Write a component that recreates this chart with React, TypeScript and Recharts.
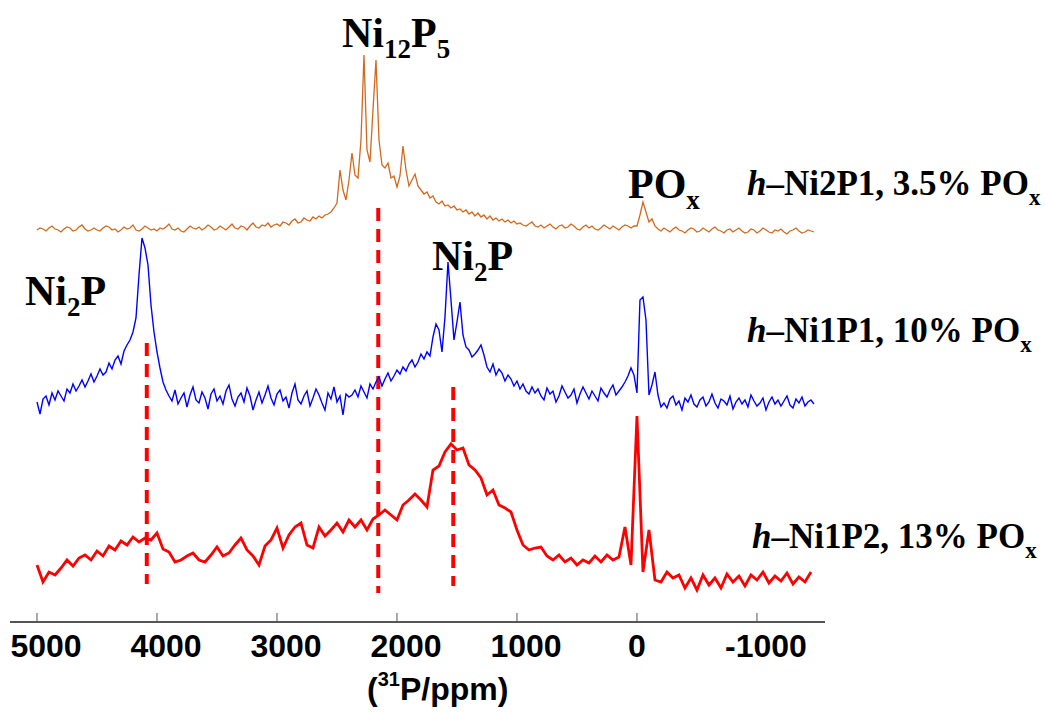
import React from "react";
import { LineChart, Line, XAxis, YAxis, ReferenceLine } from "recharts";

// sampling of the spectra (ppm)
const START_PPM = 5000;
const FINE_STEP = 25; // h-Ni2P1 and h-Ni1P1
const COARSE_STEP = 50; // h-Ni1P2

const X_TICKS = [5000, 4000, 3000, 2000, 1000, 0, -1000];

// stacked intensities (offset already included)
const ni2p1Values = [
  392, 394, 393, 391, 394, 396, 393, 392, 390, 393, 395, 394, 391, 392, 395, 397, 393, 391, 392, 394,
  392, 391, 394, 396, 395, 392, 393, 390, 392, 395, 393, 394, 397, 392, 391, 393, 396, 394, 392, 393,
  391, 394, 393, 395, 398, 393, 392, 394, 391, 390, 393, 396, 394, 393, 395, 392, 394, 397, 395, 392,
  393, 396, 394, 392, 395, 398, 394, 393, 396, 395, 392, 396, 399, 395, 394, 397, 396, 399, 395, 397,
  398, 396, 400, 399, 397, 401, 403, 399, 400, 404, 402, 401, 405, 403, 406, 404, 407,
  408, 410, 414, 419, 452, 432, 422, 442, 469, 447, 444, 482, 567, 472, 460, 512, 562, 482, 457, 454,
  459, 444, 446, 435, 446, 476, 452, 436, 442, 448, 436, 432, 428, 430, 424, 426, 420,
  418, 421, 416, 417, 414, 416, 412, 413, 410, 412, 408, 410, 406, 409, 405, 407, 403, 406, 402, 404,
  401, 403, 400, 402, 399, 401, 398,
  399, 397, 396, 398, 400, 396, 395, 397, 394, 396, 398, 395, 393, 396, 397, 394, 395, 398, 396, 393,
  392, 395, 397, 394, 396, 393, 392, 394, 397, 395, 393, 396, 394, 392, 395, 397, 396, 394, 396,
  396, 407, 420, 410, 400, 403, 396,
  393, 391, 394, 392, 390, 393, 395, 392, 391, 389, 392, 394, 393, 390, 391, 394, 392, 390, 393, 395,
  392, 391, 389, 392, 393, 390, 392, 394, 391, 389, 390, 393, 392, 389, 391, 394, 392, 390, 389, 392,
  391, 393, 390, 388, 391, 392, 394, 391, 389, 390, 392, 391, 390,
];

const ni1p1Values = [
  220, 208, 223, 226, 217, 229, 222, 231, 226, 221, 233, 229, 238, 231, 236, 242, 235, 241, 248, 240,
  246, 253, 247, 250, 259, 253, 262, 266, 258, 271, 277, 282, 290, 304,
  347, 384, 374, 357, 317, 290, 270, 254, 240, 232,
  226, 221, 232, 218, 224, 229, 215, 227, 235, 222, 219, 230, 224, 213, 228, 233, 221, 226, 218, 231,
  237, 223, 216, 225, 229, 220, 234, 226, 212, 222, 230, 219, 227, 236, 224, 217, 228, 232, 221, 225,
  214, 229, 238, 222, 218, 226, 231, 216, 224, 233, 227, 219, 212, 229, 223, 235, 220, 226, 207, 228,
  225,
  227, 232, 225, 236, 230, 224, 238, 233, 240, 245, 236, 243, 249, 241, 246, 252, 248, 255, 251, 258,
  262, 255, 260, 268, 263, 270, 266,
  285, 298, 292, 270, 305, 360, 322, 282, 300, 320, 287, 275, 272, 265, 268, 272, 277, 267,
  255, 250, 258, 247, 253, 249, 241, 247, 243, 236, 241, 233, 238, 231, 228, 235,
  229, 233, 226, 222, 234, 228, 231, 220, 226, 236, 230, 224, 227, 233, 219, 228, 235, 229, 223, 231,
  226, 221, 234, 229, 225, 232, 237, 227, 231, 235, 240, 246,
  254, 247, 229, 322, 325, 302, 227, 237, 250, 227, 215,
  219, 214, 223, 226, 217, 221, 212, 224, 220, 227, 218, 215, 222, 225, 216, 220, 228, 219, 214, 223,
  221, 217, 226, 213, 220, 224, 218, 222, 215, 227, 221, 216, 219, 224, 212, 220, 225, 218, 222, 216,
  221, 226, 217, 214, 223, 219, 225, 216, 220, 222, 218,
];

const ni1p2Values = [
  57, 40, 50, 47, 54, 62, 56, 64, 67, 62, 71, 66, 76, 72, 81, 77, 85, 80, 84, 82,
  89, 73, 70, 60, 62, 66, 69, 62, 60, 67, 75, 66, 69, 77, 84, 72, 66, 57, 76, 82,
  94, 74, 87, 95, 99, 77, 74, 95, 86, 92, 99, 90, 102, 95, 102, 92, 103, 107, 112, 107,
  102, 117, 122, 128, 122, 115, 152, 156, 170, 178, 172, 174, 157, 152, 144, 127, 132, 117, 114, 110,
  92, 77, 72, 74, 75, 66, 62, 67, 60, 64, 57, 62, 59, 66, 60, 67, 62, 65, 95, 57,
  206, 50, 92, 42, 40, 50, 44, 47, 34, 44, 32, 47, 37, 44, 34, 48, 40, 46, 36, 47,
  42, 50, 39, 46, 41, 49, 38, 45, 40, 50,
];

// dashed guide lines: position (ppm), top and bottom (intensity units)
const MARKER_PPM = [4085, 2156, 1531];
const MARKER_TOP = [279, 414, 235];
const MARKER_BOTTOM = [38, 29, 36];

const toPoints = (values: number[], step: number) =>
  values.map((v, i) => ({ ppm: START_PPM - i * step, v }));

const ni2p1 = toPoints(ni2p1Values, FINE_STEP);
const ni1p1 = toPoints(ni1p1Values, FINE_STEP);
const ni1p2 = toPoints(ni1p2Values, COARSE_STEP);

const SANS = "'Liberation Sans', Arial, sans-serif";
const SERIF = "'Liberation Serif', 'Times New Roman', serif";

function PpmTick(props: any) {
  const { x, y, payload } = props;
  const v = payload.value;
  return (
    <g>
      <line x1={x} x2={x} y1={y} y2={y - 9} stroke="#555" strokeWidth={1} />
      <text
        x={x + (v === 0 ? 0 : 9)}
        y={y + 35}
        textAnchor="middle"
        fontFamily={SANS}
        fontWeight="bold"
        fontSize={32}
        fill="#000"
      >
        {String(v)}
      </text>
    </g>
  );
}

function Phase({ x, y, main, sub, tail, tailSub }: any) {
  return (
    <text x={x} y={y} fontFamily={SERIF} fontWeight="bold" fontSize={42} fill="#000">
      {main}
      <tspan fontSize={27} dy={11}>{sub}</tspan>
      {tail && <tspan dy={-11}>{tail}</tspan>}
      {tailSub && <tspan fontSize={27} dy={11}>{tailSub}</tspan>}
    </text>
  );
}

function SampleLabel({ x, y, name }: any) {
  return (
    <text x={x} y={y} fontFamily={SERIF} fontWeight="bold" fontSize={35} fill="#000">
      <tspan fontStyle="italic">h</tspan>
      {"\u2013" + name + " PO"}
      <tspan fontSize={23} dy={10}>x</tspan>
    </text>
  );
}

export default function App() {
  return (
    <div style={{ position: "absolute", left: 0, top: 0, width: 1045, height: 713, background: "#fff" }}>
      <LineChart
        width={1045}
        height={713}
        margin={{ top: 22, right: 220, bottom: 31, left: 10 }}
      >
        <XAxis
          dataKey="ppm"
          type="number"
          domain={[-1567, 5225]}
          reversed
          allowDataOverflow
          ticks={X_TICKS}
          interval={0}
          tick={<PpmTick />}
          tickLine={false}
          tickSize={0}
          tickMargin={0}
          height={60}
          axisLine={{ stroke: "#555", strokeWidth: 2 }}
        />
        <YAxis type="number" domain={[0, 600]} allowDataOverflow hide width={0} />
        {MARKER_PPM.map((p, i) => (
          <ReferenceLine
            key={i}
            segment={[
              { x: p, y: MARKER_TOP[i] },
              { x: p, y: MARKER_BOTTOM[i] },
            ]}
            stroke="#FF0000"
            strokeWidth={4}
            strokeDasharray="13 8"
          />
        ))}
        <Line data={ni2p1} dataKey="v" type="linear" stroke="#D2691E" strokeWidth={1.3} dot={false} isAnimationActive={false} />
        <Line data={ni1p1} dataKey="v" type="linear" stroke="#0000FF" strokeWidth={1.4} dot={false} isAnimationActive={false} />
        <Line data={ni1p2} dataKey="v" type="linear" stroke="#FF0000" strokeWidth={2.8} dot={false} isAnimationActive={false} />
      </LineChart>
      <svg
        width={1045}
        height={713}
        style={{ position: "absolute", left: 0, top: 0, pointerEvents: "none" }}
      >
        <Phase x={342} y={47} main="Ni" sub="12" tail="P" tailSub="5" />
        <Phase x={25} y={305} main="Ni" sub="2" tail="P" />
        <Phase x={432} y={270} main="Ni" sub="2" tail="P" />
        <Phase x={628} y={198} main="PO" sub="x" />
        <SampleLabel x={747} y={195} name="Ni2P1, 3.5%" />
        <SampleLabel x={747} y={342} name="Ni1P1, 10%" />
        <SampleLabel x={752} y={548} name="Ni1P2, 13%" />
        <text x={367} y={700} fontFamily={SANS} fontWeight="bold" fontSize={32} fill="#000">
          (<tspan fontSize={20} dy={-14}>31</tspan>
          <tspan dy={14}>P/ppm)</tspan>
        </text>
      </svg>
    </div>
  );
}
